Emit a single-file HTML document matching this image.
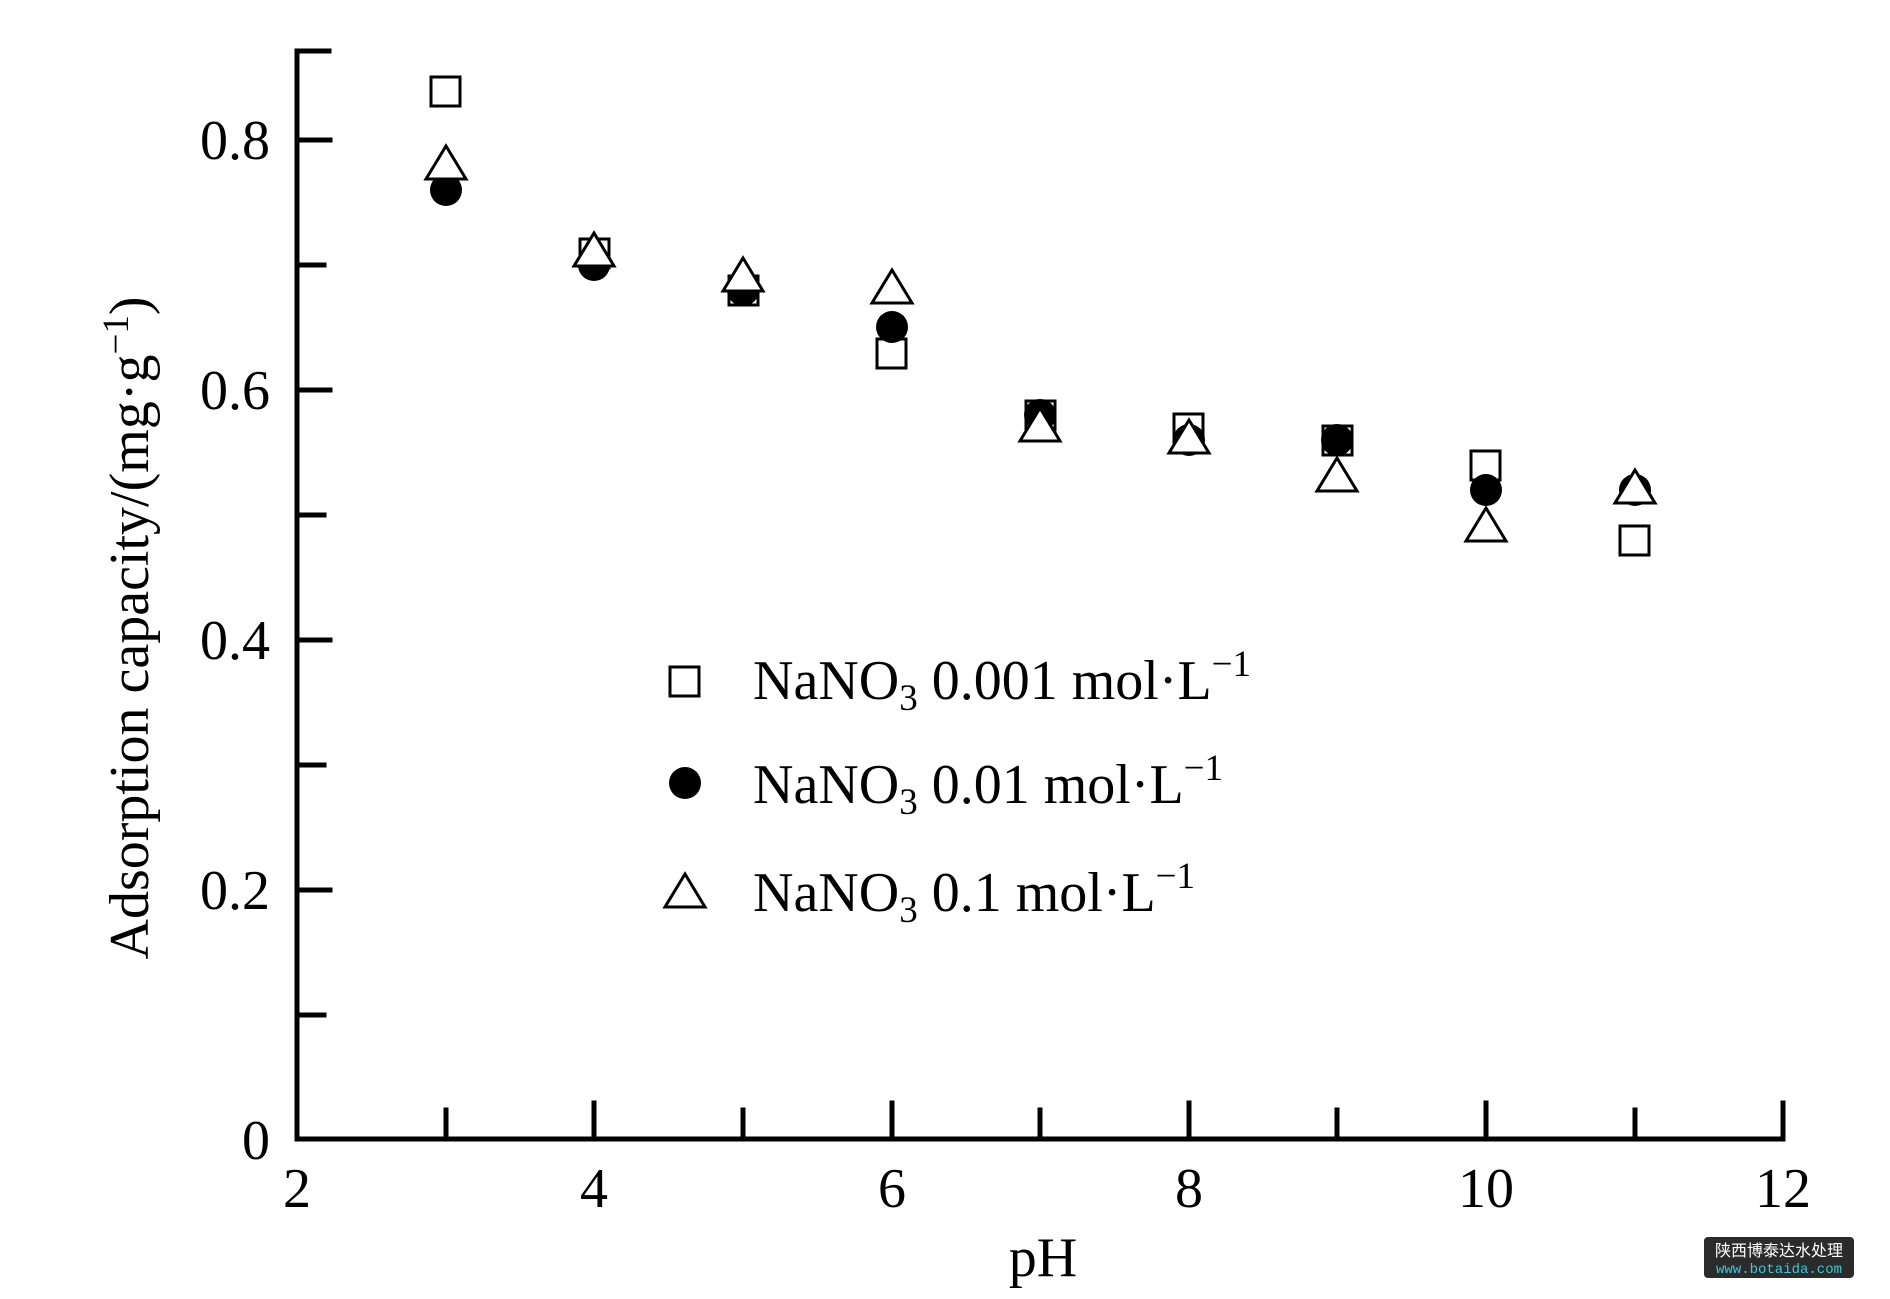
<!DOCTYPE html>
<html><head><meta charset="utf-8"><style>
body{margin:0;background:#fff;}
svg{display:block;}
text{font-family:"Liberation Serif",serif;fill:#000;}
</style></head><body>
<svg width="1890" height="1299" viewBox="0 0 1890 1299" xmlns="http://www.w3.org/2000/svg">
<g stroke="#000" stroke-width="5" fill="none" stroke-linecap="square">
<path d="M297 51 V1139 H1783 V1103"/>
<path d="M297 51 H329 M297 140 H330 M297 265 H324 M297 390 H330 M297 515 H324 M297 640 H330 M297 765 H324 M297 890 H330 M297 1015 H324"/>
<path d="M446 1139 V1110 M594 1139 V1103 M743 1139 V1110 M892 1139 V1103 M1040 1139 V1110 M1189 1139 V1103 M1337 1139 V1110 M1486 1139 V1103 M1635 1139 V1110"/>
</g>
<g font-size="56" text-anchor="end">
<text x="270" y="159">0.8</text>
<text x="270" y="409">0.6</text>
<text x="270" y="659">0.4</text>
<text x="270" y="909">0.2</text>
<text x="270" y="1159">0</text>
</g>
<g font-size="56" text-anchor="middle">
<text x="297" y="1207">2</text>
<text x="594" y="1207">4</text>
<text x="892" y="1207">6</text>
<text x="1189" y="1207">8</text>
<text x="1486" y="1207">10</text>
<text x="1783" y="1207">12</text>
<text x="1043" y="1276">pH</text>
</g>
<text font-size="56" text-anchor="middle" transform="translate(148,628) rotate(-90)">Adsorption capacity/(mg·g<tspan font-size="37" dy="-20">−1</tspan><tspan dy="20">)</tspan></text>
<g fill="none" stroke="#000" stroke-width="3">
<rect x="431" y="77" width="29" height="29"/>
<rect x="580" y="239" width="29" height="29"/>
<rect x="729" y="276" width="29" height="29"/>
<rect x="877" y="339" width="29" height="29"/>
<rect x="1026" y="401" width="29" height="29"/>
<rect x="1174" y="414" width="29" height="29"/>
<rect x="1323" y="426" width="29" height="29"/>
<rect x="1471" y="451" width="29" height="29"/>
<rect x="1620" y="526" width="29" height="29"/>
<rect x="670" y="667" width="29" height="29"/>
</g>
<g fill="#000">
<circle cx="446" cy="190" r="16"/>
<circle cx="594" cy="265" r="16"/>
<circle cx="743" cy="290" r="16"/>
<circle cx="892" cy="327" r="16"/>
<circle cx="1040" cy="415" r="16"/>
<circle cx="1189" cy="440" r="16"/>
<circle cx="1337" cy="440" r="16"/>
<circle cx="1486" cy="490" r="16"/>
<circle cx="1635" cy="490" r="16"/>
<circle cx="685" cy="783" r="16"/>
</g>
<g fill="#fff" stroke="#000" stroke-width="3" stroke-linejoin="miter">
<path d="M446 146 l-20 33 h40z"/>
<path d="M594 233 l-20 33 h40z"/>
<path d="M743 258 l-20 33 h40z"/>
<path d="M892 270 l-20 33 h40z"/>
<path d="M1040 408 l-20 33 h40z"/>
<path d="M1189 420 l-20 33 h40z"/>
<path d="M1337 458 l-20 33 h40z"/>
<path d="M1486 508 l-20 33 h40z"/>
<path d="M1635 470 l-20 33 h40z"/>
<path d="M685 874 l-20 33 h40z"/>
</g>
<g font-size="56">
<text x="753" y="699">NaNO<tspan font-size="37" dy="11">3</tspan><tspan dy="-11"> 0.001 mol·L</tspan><tspan font-size="37" dy="-23">−1</tspan></text>
<text x="753" y="803">NaNO<tspan font-size="37" dy="11">3</tspan><tspan dy="-11"> 0.01 mol·L</tspan><tspan font-size="37" dy="-23">−1</tspan></text>
<text x="753" y="911">NaNO<tspan font-size="37" dy="11">3</tspan><tspan dy="-11"> 0.1 mol·L</tspan><tspan font-size="37" dy="-23">−1</tspan></text>
</g>
<rect x="1704" y="1237" width="150" height="41" rx="4" fill="#2b2b2b"/>
<text x="1779" y="1256" font-size="16" text-anchor="middle" style="font-family:'Noto Sans CJK SC',sans-serif;fill:#fff">陕西博泰达水处理</text>
<text x="1779" y="1273" font-size="14" text-anchor="middle" style="font-family:'Liberation Mono',monospace;fill:#3cc8d8">www.botaida.com</text>
</svg>
</body></html>
